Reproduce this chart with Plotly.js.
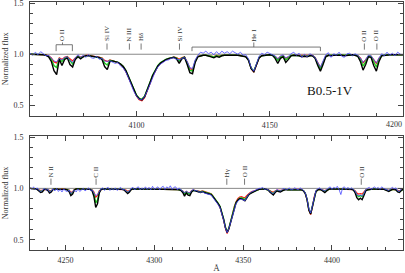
<!DOCTYPE html>
<html>
<head>
<meta charset="utf-8">
<script src="https://cdn.plot.ly/plotly-3.0.1.min.js"></script>
<style>html,body{margin:0;padding:0;background:#fff}#chart{width:405px;height:273px}</style>
</head>
<body>
<div id="chart"></div>
<script>
// ---------- Data: upper panel, 4060-4200 Å, 1 Å sampling ----------
const topStart = 4060;
const topBlue = [
1.01,0.99,1.02,0.995,1.025,1.0,0.985,0.99,0.96,0.935,
0.925,0.96,0.945,0.97,0.975,0.94,0.92,0.965,0.995,0.97,
0.99,0.97,0.995,0.965,0.96,0.98,0.95,0.96,0.935,0.93,
0.935,0.92,0.91,0.92,0.885,0.865,0.825,0.765,0.70,0.635,
0.59,0.56,0.555,0.585,0.64,0.71,0.775,0.83,0.875,0.905,
0.92,0.94,0.945,0.96,0.965,0.95,0.945,0.96,0.97,0.93,
0.87,0.86,0.945,0.99,1.02,1.01,1.03,1.005,1.02,0.995,
1.025,1.0,1.03,1.01,1.025,1.005,1.03,1.015,1.0,1.02,
0.99,0.995,0.955,0.87,0.835,0.905,0.98,1.01,0.995,1.02,
1.005,0.995,0.985,0.955,0.985,0.995,0.965,0.98,1.005,1.02,
0.99,1.01,0.97,1.0,0.975,1.005,0.99,0.97,0.92,0.875,
0.935,0.995,1.015,0.97,1.005,0.99,1.02,0.98,0.97,1.005,
1.01,0.985,1.005,0.99,0.965,0.92,0.95,0.99,0.985,0.95,
0.915,0.965,1.005,0.985,1.02,0.99,1.01,0.985,1.02,1.0,
0.995];
const topRed = [
1.0,1.0,1.0,0.999,0.998,0.997,0.994,0.985,0.965,0.925,
0.915,0.965,0.95,0.97,0.978,0.955,0.935,0.965,0.983,0.973,
0.983,0.988,0.988,0.983,0.98,0.976,0.97,0.965,0.94,0.93,
0.945,0.938,0.93,0.918,0.90,0.872,0.83,0.77,0.705,0.64,
0.59,0.555,0.545,0.575,0.635,0.71,0.782,0.84,0.882,0.912,
0.933,0.946,0.957,0.965,0.972,0.967,0.952,0.967,0.973,0.925,
0.86,0.85,0.935,0.98,0.988,0.99,0.99,0.988,0.985,0.978,
0.988,0.983,0.99,0.99,0.99,0.995,0.995,0.995,0.99,0.986,
0.982,0.977,0.945,0.86,0.825,0.90,0.966,0.986,0.99,0.99,
0.995,0.99,0.978,0.955,0.978,0.985,0.96,0.972,0.988,0.99,
0.99,0.988,0.983,0.986,0.983,0.99,0.988,0.968,0.915,0.87,
0.925,0.98,0.99,0.988,0.99,0.99,0.995,0.99,0.988,0.99,
0.995,0.995,0.99,0.987,0.965,0.915,0.945,0.983,0.982,0.945,
0.91,0.96,0.988,0.99,0.995,0.995,0.995,0.995,0.995,0.995,
0.995];
const topGreen = [
1.0,1.0,1.0,0.999,0.998,0.996,0.992,0.98,0.95,0.89,
0.87,0.955,0.93,0.96,0.972,0.935,0.905,0.955,0.98,0.965,
0.98,0.987,0.987,0.982,0.98,0.976,0.97,0.96,0.915,0.895,
0.94,0.935,0.93,0.92,0.905,0.88,0.84,0.78,0.715,0.65,
0.60,0.57,0.56,0.59,0.65,0.725,0.795,0.85,0.89,0.918,
0.938,0.95,0.96,0.966,0.972,0.962,0.935,0.962,0.972,0.915,
0.845,0.835,0.93,0.978,0.987,0.99,0.99,0.987,0.98,0.973,
0.985,0.978,0.988,0.99,0.99,0.995,0.995,0.995,0.99,0.986,
0.982,0.977,0.945,0.865,0.835,0.905,0.968,0.986,0.99,0.99,
0.995,0.99,0.972,0.94,0.972,0.982,0.945,0.965,0.988,0.99,
0.99,0.987,0.98,0.984,0.98,0.988,0.987,0.965,0.905,0.855,
0.915,0.978,0.99,0.987,0.99,0.99,0.995,0.99,0.987,0.99,
0.995,0.995,0.99,0.985,0.95,0.885,0.925,0.98,0.978,0.925,
0.875,0.945,0.987,0.99,0.995,0.995,0.995,0.995,0.995,0.995,
0.995];
const topBlack = [
1.0,1.0,1.0,0.999,0.998,0.995,0.99,0.975,0.93,0.84,
0.80,0.95,0.89,0.95,0.965,0.90,0.875,0.95,0.975,0.955,
0.975,0.985,0.985,0.98,0.98,0.975,0.97,0.95,0.88,0.85,
0.93,0.935,0.93,0.92,0.905,0.88,0.84,0.775,0.71,0.645,
0.595,0.565,0.555,0.585,0.645,0.72,0.79,0.845,0.885,0.915,
0.935,0.948,0.958,0.965,0.97,0.955,0.91,0.955,0.97,0.90,
0.82,0.81,0.92,0.975,0.985,0.99,0.99,0.985,0.975,0.965,
0.98,0.97,0.985,0.99,0.99,0.995,0.995,0.995,0.99,0.985,
0.98,0.975,0.94,0.86,0.83,0.90,0.965,0.985,0.99,0.99,
0.995,0.99,0.96,0.91,0.96,0.975,0.92,0.95,0.985,0.99,
0.99,0.985,0.975,0.98,0.975,0.985,0.985,0.96,0.89,0.835,
0.90,0.975,0.99,0.985,0.99,0.99,0.995,0.99,0.985,0.99,
0.995,0.995,0.99,0.98,0.93,0.845,0.90,0.975,0.97,0.89,
0.835,0.93,0.985,0.99,0.995,0.995,0.995,0.995,0.995,0.995,
0.995];

// ---------- Data: lower panel, 4230-4440 Å, 1 Å sampling ----------
const botStart = 4230;
const botBlue = [
1.01,0.99,1.015,0.985,1.005,0.98,0.97,0.98,1.0,0.98,
0.995,0.965,0.975,0.995,0.975,1.0,0.97,0.99,0.965,0.995,
0.975,0.97,0.985,0.95,0.965,0.985,0.965,0.995,0.97,0.99,
1.0,0.975,0.995,1.005,0.98,0.985,0.955,0.93,0.94,0.975,
0.995,1.005,0.98,1.0,1.01,0.98,1.0,0.985,1.005,0.98,
1.0,1.01,0.985,0.99,0.975,0.965,0.975,1.0,1.01,0.985,
1.005,1.015,0.985,1.005,0.99,1.015,0.99,1.01,0.985,1.02,
0.99,1.005,1.015,0.985,1.01,1.02,0.99,1.015,1.0,1.025,
0.99,1.01,1.015,0.985,1.005,0.985,0.975,0.955,0.975,0.96,
0.955,0.98,0.99,0.975,0.98,0.965,0.96,0.97,0.955,0.95,
0.945,0.935,0.935,0.91,0.89,0.865,0.84,0.81,0.76,0.69,
0.615,0.57,0.61,0.675,0.745,0.8,0.85,0.875,0.89,0.895,
0.885,0.88,0.91,0.94,0.955,0.97,0.975,0.985,0.99,1.0,
1.0,1.01,0.99,0.995,0.985,0.975,0.955,0.95,0.97,0.99,
0.98,0.975,0.99,1.0,0.985,0.99,1.005,0.985,0.99,1.005,
0.995,0.985,1.005,0.99,0.98,0.955,0.895,0.8,0.76,0.83,
0.925,0.98,0.995,1.005,0.99,0.98,0.975,0.99,1.005,1.015,
0.99,1.01,1.0,1.02,0.99,0.94,1.005,1.015,0.99,1.01,
0.99,1.005,0.99,0.975,0.94,0.93,0.935,0.925,0.95,0.99,
1.0,1.01,0.99,1.005,1.015,0.995,1.01,0.99,1.015,1.0,
0.995,0.985,0.98,0.995,1.01,0.995,1.005,0.975,0.97,0.995,
1.0];
const botRed = [
1.0,1.0,0.998,0.995,0.993,0.987,0.98,0.982,0.99,0.99,
0.988,0.978,0.982,0.99,0.995,0.995,0.99,0.99,0.995,0.995,
0.99,0.988,0.983,0.96,0.968,0.988,0.995,0.995,0.995,0.995,
0.99,0.99,0.995,0.995,0.99,0.987,0.965,0.915,0.93,0.978,
0.99,0.995,0.995,0.995,0.995,0.99,0.99,0.995,0.995,0.995,
0.995,0.995,0.99,0.988,0.983,0.972,0.98,0.99,0.995,0.995,
0.995,0.995,0.995,0.995,0.993,0.995,0.995,0.995,0.993,0.99,
0.993,0.995,0.995,0.99,0.993,0.995,0.995,0.995,0.993,0.99,
0.99,0.99,0.99,0.988,0.987,0.984,0.975,0.955,0.97,0.96,
0.957,0.978,0.984,0.98,0.979,0.973,0.969,0.975,0.972,0.965,
0.96,0.955,0.948,0.925,0.903,0.876,0.848,0.815,0.762,0.69,
0.61,0.56,0.605,0.682,0.758,0.822,0.87,0.9,0.915,0.92,
0.912,0.91,0.928,0.948,0.96,0.968,0.975,0.981,0.986,0.99,
0.993,0.995,0.995,0.99,0.987,0.98,0.968,0.962,0.975,0.982,
0.98,0.978,0.983,0.988,0.99,0.987,0.987,0.987,0.988,0.99,
0.99,0.99,0.99,0.985,0.977,0.95,0.888,0.788,0.745,0.818,
0.918,0.97,0.985,0.99,0.987,0.982,0.978,0.985,0.99,0.995,
0.995,0.995,0.995,0.995,0.995,0.995,0.993,0.99,0.993,0.995,
0.993,0.99,0.988,0.977,0.955,0.945,0.95,0.945,0.965,0.985,
0.987,0.987,0.99,0.993,0.995,0.993,0.99,0.99,0.99,0.993,
0.988,0.983,0.98,0.987,0.99,0.99,0.988,0.978,0.975,0.986,
0.99];
const botGreen = [
1.0,1.0,0.998,0.995,0.992,0.982,0.972,0.975,0.99,0.99,
0.985,0.968,0.975,0.99,0.995,0.995,0.99,0.99,0.995,0.995,
0.99,0.987,0.978,0.945,0.958,0.987,0.995,0.995,0.995,0.995,
0.99,0.99,0.995,0.995,0.99,0.982,0.945,0.86,0.885,0.965,
0.99,0.995,0.995,0.995,0.995,0.99,0.99,0.995,0.995,0.995,
0.995,0.995,0.99,0.987,0.978,0.962,0.973,0.99,0.995,0.995,
0.995,0.995,0.995,0.995,0.993,0.995,0.995,0.995,0.993,0.99,
0.993,0.995,0.995,0.99,0.993,0.995,0.995,0.995,0.993,0.99,
0.99,0.99,0.99,0.988,0.986,0.982,0.97,0.945,0.965,0.95,
0.945,0.972,0.982,0.978,0.977,0.97,0.965,0.972,0.969,0.96,
0.955,0.95,0.944,0.923,0.903,0.878,0.853,0.823,0.773,0.703,
0.623,0.575,0.615,0.685,0.755,0.815,0.863,0.89,0.905,0.908,
0.898,0.892,0.915,0.94,0.953,0.962,0.971,0.979,0.985,0.99,
0.993,0.995,0.995,0.99,0.986,0.975,0.958,0.95,0.968,0.978,
0.975,0.972,0.979,0.986,0.99,0.986,0.986,0.986,0.988,0.99,
0.99,0.99,0.99,0.985,0.977,0.952,0.893,0.795,0.755,0.825,
0.922,0.971,0.985,0.99,0.986,0.978,0.972,0.982,0.99,0.995,
0.995,0.995,0.995,0.995,0.995,0.995,0.993,0.99,0.993,0.995,
0.993,0.99,0.987,0.97,0.935,0.92,0.93,0.92,0.95,0.98,
0.986,0.986,0.99,0.993,0.995,0.993,0.99,0.99,0.99,0.993,
0.987,0.98,0.977,0.984,0.99,0.99,0.987,0.972,0.968,0.983,
0.99];
const botBlack = [
1.0,1.0,0.998,0.995,0.99,0.975,0.96,0.965,0.99,0.99,
0.98,0.955,0.965,0.99,0.995,0.995,0.99,0.99,0.995,0.995,
0.99,0.985,0.97,0.93,0.945,0.985,0.995,0.995,0.995,0.995,
0.99,0.99,0.995,0.995,0.99,0.975,0.92,0.815,0.85,0.955,
0.99,0.995,0.995,0.995,0.995,0.99,0.99,0.995,0.995,0.995,
0.995,0.995,0.99,0.985,0.97,0.95,0.965,0.99,0.995,0.995,
0.995,0.995,0.995,0.995,0.993,0.995,0.995,0.995,0.993,0.99,
0.993,0.995,0.995,0.99,0.993,0.995,0.995,0.995,0.993,0.99,
0.99,0.99,0.99,0.988,0.985,0.98,0.96,0.925,0.955,0.935,
0.93,0.965,0.98,0.975,0.975,0.965,0.96,0.968,0.965,0.955,
0.95,0.945,0.94,0.92,0.90,0.875,0.85,0.82,0.77,0.70,
0.62,0.57,0.61,0.68,0.75,0.81,0.86,0.885,0.90,0.90,
0.885,0.878,0.905,0.935,0.95,0.96,0.97,0.978,0.985,0.99,
0.993,0.995,0.995,0.99,0.985,0.965,0.945,0.935,0.96,0.975,
0.97,0.965,0.975,0.985,0.99,0.985,0.985,0.985,0.988,0.99,
0.99,0.99,0.99,0.985,0.975,0.95,0.89,0.79,0.75,0.82,
0.92,0.97,0.985,0.99,0.985,0.97,0.96,0.975,0.99,0.995,
0.995,0.995,0.995,0.995,0.995,0.995,0.993,0.99,0.993,0.995,
0.993,0.99,0.985,0.96,0.91,0.89,0.905,0.89,0.93,0.975,
0.985,0.985,0.99,0.993,0.995,0.993,0.99,0.99,0.99,0.993,
0.985,0.975,0.97,0.98,0.99,0.99,0.985,0.965,0.96,0.98,
0.99];

// ---------- Line identifications and tick labels ----------
const topLineNames = ["O II", "Si IV", "N III", "Hδ", "Si IV", "He I", "O II", "O II"];
const topLineWaves = [4072.2, 4088.9, 4097.3, 4101.7, 4116.1, 4144.0, 4185.5, 4190.2];
const topBracketOf = [0, null, null, null, null, 1, null, null];
const topBrackets = [[4069.8, 4075.9], [4120.8, 4169.0]];
const botLineNames = ["N II", "C II", "Hγ", "O II", "O II"];
const botLineWaves = [4241.8, 4267.2, 4340.8, 4350.8, 4416.5];
const spType = "B0.5-1V";
const topTickVals = [4100, 4150, 4200];
const topTickText = ["4100", "4150", ""];
const topEdgeLabel = "4200";

// ---------- Build ----------
const topWave = topBlack.map((_, i) => topStart + i);
const botWave = botBlack.map((_, i) => botStart + i);

const series = [
  {color: '#ff1a1a', width: 1.2},
  {color: '#22cc22', width: 1.4},
  {color: '#000000', width: 1.4},
  {color: '#4848ff', width: 0.8}
];
const topSets = [topRed, topGreen, topBlack, topBlue];
const botSets = [botRed, botGreen, botBlack, botBlue];

const traces = [];
series.forEach((s, k) => {
  traces.push({x: topWave, y: topSets[k], xaxis: 'x', yaxis: 'y', mode: 'lines',
    line: {color: s.color, width: s.width}, hoverinfo: 'skip', showlegend: false});
});
series.forEach((s, k) => {
  traces.push({x: botWave, y: botSets[k], xaxis: 'x2', yaxis: 'y2', mode: 'lines',
    line: {color: s.color, width: s.width}, hoverinfo: 'skip', showlegend: false});
});

const AX = '#444';
const serif = 'Liberation Serif, Times New Roman, serif';
const axisBase = {
  showline: true, linecolor: AX, linewidth: 1, mirror: 'ticks',
  ticks: 'inside', ticklen: 5, tickwidth: 1, tickcolor: AX,
  showgrid: false, zeroline: false, automargin: false,
  ticklabeloverflow: 'allow',
  tickfont: {family: serif, size: 8, color: '#333'}
};
const xMinor = {dtick: 10, ticks: 'inside', ticklen: 3, tickwidth: 1, tickcolor: AX, showgrid: false};
const yMinor = {dtick: 0.1, ticks: 'inside', ticklen: 3, tickwidth: 1, tickcolor: AX, showgrid: false};
const yTitle = {text: 'Normalized flux', font: {family: serif, size: 8, color: '#333'}, standoff: 3};

const shapes = [];
const annotations = [];
const LC = '#555';
function vline(xr, yr, x, y0, y1) {
  shapes.push({type: 'line', xref: xr, yref: yr, x0: x, x1: x, y0: y0, y1: y1, line: {color: LC, width: 0.8}});
}
function hline(xr, yr, x0, x1, y) {
  shapes.push({type: 'line', xref: xr, yref: yr, x0: x0, x1: x1, y0: y, y1: y, line: {color: LC, width: 0.8}});
}
function label(xr, yr, x, y, txt) {
  annotations.push({xref: xr, yref: yr, x: x, y: y, text: txt, showarrow: false, textangle: -90,
    xanchor: 'center', yanchor: 'bottom', borderpad: 0,
    font: {family: serif, size: 7, color: '#333'}});
}
[['x', 'y'], ['x2', 'y2']].forEach(([xr, yr]) => {
  shapes.push({type: 'line', xref: xr + ' domain', yref: yr, x0: 0, x1: 1, y0: 1, y1: 1,
    line: {color: '#888', width: 1}, layer: 'below'});
});
const bracketLevels = [1.093, 1.07];
topLineNames.forEach((nm, i) => {
  const w = topLineWaves[i];
  const b = topBracketOf[i];
  if (b === null) {
    vline('x', 'y', w, 1.045, 1.105);
  } else {
    const [b0, b1] = topBrackets[b];
    const lv = bracketLevels[b];
    hline('x', 'y', b0, b1, lv);
    vline('x', 'y', b0, 1.03, lv);
    vline('x', 'y', b1, 1.03, lv);
    vline('x', 'y', w, lv, 1.115);
  }
  label('x', 'y', w, 1.115, nm);
});
botLineNames.forEach((nm, i) => {
  vline('x2', 'y2', botLineWaves[i], 1.035, 1.095);
  label('x2', 'y2', botLineWaves[i], 1.095, nm);
});
annotations.push({xref: 'x', yref: 'y', x: 4172.5, y: 0.65, text: spType, showarrow: false,
  xanchor: 'center', yanchor: 'middle', font: {family: serif, size: 13, color: '#111'}});
annotations.push({xref: 'x', yref: 'y', x: 4200, y: 0.4, text: topEdgeLabel, showarrow: false,
  xanchor: 'right', yanchor: 'top', yshift: -3, borderpad: 0,
  font: {family: serif, size: 8, color: '#333'}});

const layout = {
  width: 405, height: 273,
  margin: {l: 30, r: 2, t: 2, b: 23, pad: 0},
  paper_bgcolor: '#fff', plot_bgcolor: '#fff',
  font: {family: serif, size: 8, color: '#333'},
  showlegend: false,
  xaxis: Object.assign({}, axisBase, {anchor: 'y', domain: [0, 1], range: [4060, 4200],
    tickmode: 'array', tickvals: topTickVals, ticktext: topTickText,
    minor: Object.assign({tickmode: 'linear', tick0: 4000}, xMinor), ticklabelstandoff: 2}),
  yaxis: Object.assign({}, axisBase, {anchor: 'x', domain: [0.5415, 1], range: [0.4, 1.51],
    tick0: 0, dtick: 0.5, tickformat: '.1f', minor: yMinor, ticklabelstandoff: 4, title: yTitle}),
  xaxis2: Object.assign({}, axisBase, {anchor: 'y2', domain: [0, 1], range: [4230, 4440],
    tick0: 4000, dtick: 50, minor: xMinor, ticklabelstandoff: 2,
    title: {text: 'Å', font: {family: serif, size: 9, color: '#333'}, standoff: 2}}),
  yaxis2: Object.assign({}, axisBase, {anchor: 'x2', domain: [0, 0.4597], range: [0.4, 1.51],
    tick0: 0, dtick: 0.5, tickformat: '.1f', minor: yMinor, ticklabelstandoff: 4, title: yTitle}),
  shapes: shapes,
  annotations: annotations
};

Plotly.newPlot('chart', traces, layout, {staticPlot: true, displayModeBar: false});
</script>
</body>
</html>
